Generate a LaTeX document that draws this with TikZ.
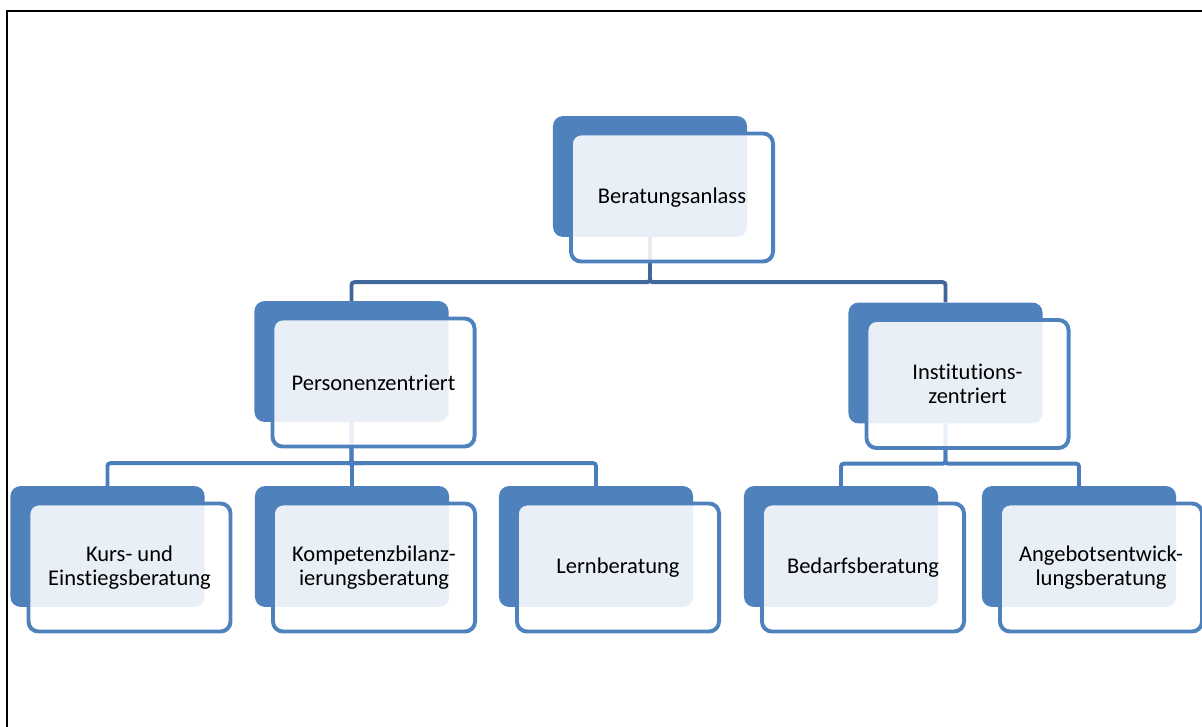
\documentclass[tikz,border=0pt]{standalone}
\usepackage{fontspec}
\setmainfont{Carlito}[Ligatures={NoCommon}]
\usetikzlibrary{positioning,calc,backgrounds}
\definecolor{boxblue}{HTML}{4F81BD}
\definecolor{linedark}{HTML}{41679A}
\definecolor{linemid}{HTML}{4A7DBA}
\tikzset
{
  backbox/.style  = {rectangle, rounded corners=0.25cm, fill=boxblue, minimum width=4.85cm, minimum height=3.02cm},
  frontbox/.style = {rectangle, rounded corners=0.25cm, draw=boxblue, line width=2.8pt, fill=white, fill opacity=0.88, text opacity=1,
                     minimum width=5.05cm, minimum height=3.2cm, align=center, font=\fontsize{16}{16.6}\selectfont}
}

\begin{document}
\begin{tikzpicture}[x=0.025cm, y=-0.025cm, conn/.style={line width=2.8pt, rounded corners=2pt}]
            \useasboundingbox (0,0) rectangle (1202,727);
            \draw[line width=2pt] (7,727) -- (7,11) -- (1202,11);
            % level 1
            \node [backbox] (anlassB) at (650,176.5) {};
            \node [frontbox] (anlass) at ($(anlassB)+(22,21)$) {Beratungsanlass};
            % level 2
            \node [backbox] (personB) at (351.5,361.5) {};
            \node [frontbox] (person) at ($(personB)+(22,21)$) {Personenzentriert};
            \node [backbox] (instB) at (945.5,363) {};
            \node [frontbox] (inst) at ($(instB)+(22,21)$) {Institutions-\\zentriert};
            % level 3
            \node [backbox] (kursB) at (107.5,546.5) {};
            \node [frontbox] (kurs) at ($(kursB)+(22,21)$) {Kurs- und\\Einstiegsberatung};
            \node [backbox] (kompB) at (352,546.5) {};
            \node [frontbox] (komp) at ($(kompB)+(22,21)$) {Kompetenzbilanz-\\ierungsberatung};
            \node [backbox] (lernB) at (596,546.5) {};
            \node [frontbox] (lern) at ($(lernB)+(22,21)$) {Lernberatung};
            \node [backbox] (bedarfB) at (841,546.5) {};
            \node [frontbox] (bedarf) at ($(bedarfB)+(22,21)$) {Bedarfsberatung};
            \node [backbox] (angebotB) at (1079,546.5) {};
            \node [frontbox] (angebot) at ($(angebotB)+(22,21)$) {Angebotsentwick-\\lungsberatung};
            \begin{scope}[on background layer]
              \draw[conn, linedark] (anlassB.south) -- ++(0,45) -| (personB.north);
              \draw[conn, linedark] (anlassB.south) -- ++(0,45) -| (instB.north);
              \draw[conn, linemid] (personB.south) -- ++(0,41) -| (kursB.north);
              \draw[conn, linemid] (personB.south) -- ++(0,41) -| (kompB.north);
              \draw[conn, linemid] (personB.south) -- ++(0,41) -| (lernB.north);
              \draw[conn, linemid] (instB.south) -- ++(0,40) -| (bedarfB.north);
              \draw[conn, linemid] (instB.south) -- ++(0,40) -| (angebotB.north);
            \end{scope}
          \end{tikzpicture}
\end{document}
